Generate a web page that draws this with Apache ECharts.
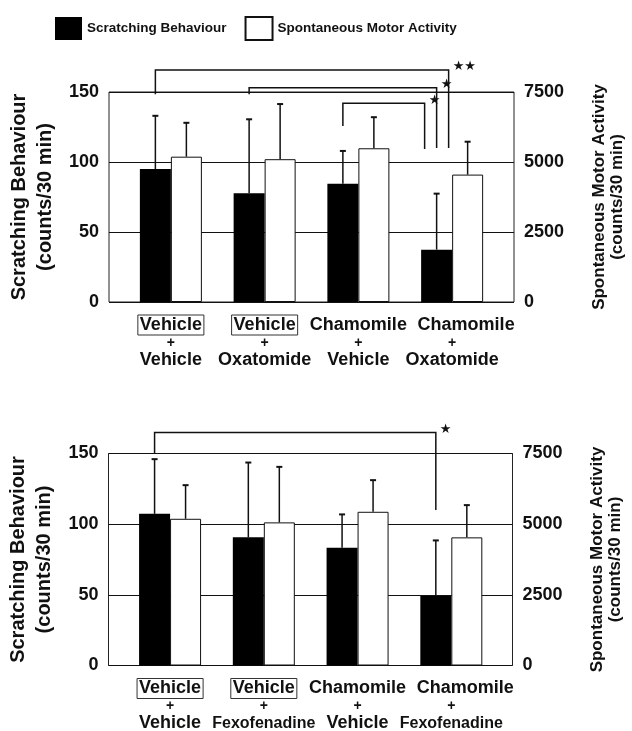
<!DOCTYPE html>
<html>
<head>
<meta charset="utf-8">
<script src="https://cdn.jsdelivr.net/npm/echarts@6/dist/echarts.min.js"></script>
<style>
html, body { margin: 0; padding: 0; background: #fff; }
#main { width: 632px; height: 731px; }
</style>
</head>
<body>
<div id="main"></div>
<script>
var pretreatment = ['Vehicle', 'Vehicle', 'Chamomile', 'Chamomile'];
var treatmentTop = ['Vehicle', 'Oxatomide', 'Vehicle', 'Oxatomide'];
var treatmentBottom = ['Vehicle', 'Fexofenadine', 'Vehicle', 'Fexofenadine'];

// means and mean + SD
var scratchTop = [95, 77.6, 84.5, 37.4];
var scratchTopErr = [133, 130.5, 107.9, 77.4];
var motorTop = [5190, 5100, 5490, 4550];
var motorTopErr = [6400, 7070, 6600, 5725];

var scratchBottom = [107.3, 90.7, 83.3, 49.2];
var scratchBottomErr = [146, 143.6, 106.9, 88.5];
var motorBottom = [5190, 5063, 5438, 4533];
var motorBottomErr = [6380, 7027, 6557, 5674];

var scratchTicks = [0, 50, 100, 150];
var motorTicks = [0, 2500, 5000, 7500];

// [from group, to group, left end, top, right end, lane, stars] (scratching units)
var bracketsTop = [
    [0, 3, 148.4, 165.7, 110, 1, '\u2605\u2605'],
    [1, 3, 148.4, 153, 110, 0, '\u2605'],
    [2, 3, 125.7, 141.9, 109.3, -1, '\u2605']
];
var bracketsBottom = [
    [0, 3, 150, 164.8, 110, 0, '\u2605']
];

var FONT = '"Liberation Sans", Arial, Helvetica, sans-serif';
var INK = '#111';

function catLabel(treat) {
    return function (value, index) {
        var pre = pretreatment[index];
        var first;
        if (pre === 'Vehicle') first = '{box|' + pre + '}';
        else if (index === 3) first = '{shift|' + pre + '}';
        else first = '{plain|' + pre + '}';
        var sty = treat[index].length > 10 ? 'small' : 'second';
        return first + '\n{plus|+}\n{' + sty + '|' + treat[index] + '}';
    };
}

var richLabel = {
    box: { fontSize: 18, fontWeight: 'bold', fontFamily: FONT, color: INK, lineHeight: 18, borderColor: '#333', borderWidth: 1, padding: [1, 2, 1, 2] },
    plain: { fontSize: 18, fontWeight: 'bold', fontFamily: FONT, color: INK, lineHeight: 18, padding: [1, 2, 1, 2] },
    shift: { fontSize: 18, fontWeight: 'bold', fontFamily: FONT, color: INK, lineHeight: 18, padding: [1, 0, 1, 28] },
    second: { fontSize: 18, fontWeight: 'bold', fontFamily: FONT, color: INK, lineHeight: 16 },
    small: { fontSize: 16, fontWeight: 'bold', fontFamily: FONT, color: INK, lineHeight: 16 },
    plus: { fontSize: 14, fontWeight: 'bold', fontFamily: FONT, color: INK, lineHeight: 18 }
};

function errorRender(side) {
    return function (params, api) {
        var b = api.coord([api.value(0), api.value(1)]);
        var t = api.coord([api.value(0), api.value(2)]);
        var x = b[0] + side * 15.5;
        return {
            type: 'group',
            children: [
                { type: 'line', shape: { x1: x, y1: b[1], x2: x, y2: t[1] }, style: { stroke: INK, lineWidth: 1.5 } },
                { type: 'line', shape: { x1: x - 3, y1: t[1], x2: x + 3, y2: t[1] }, style: { stroke: INK, lineWidth: 2 } }
            ]
        };
    };
}

function bracketRender(list) {
    return function (params, api) {
        var b = list[params.dataIndex];
        var pl = api.coord([b[0], b[2]]);
        var pt = api.coord([b[0], b[3]]);
        var pr = api.coord([b[1], b[4]]);
        var xl = pl[0] - 15.5;
        var xr = pr[0] - 15.5 + b[5] * 12;
        return {
            type: 'group',
            children: [
                { type: 'polyline', shape: { points: [[xl, pl[1]], [xl, pt[1]], [xr, pt[1]], [xr, pr[1]]] }, style: { stroke: INK, lineWidth: 1.5, fill: null } },
                { type: 'text', x: xr + 4, y: pt[1] - 3, style: { text: b[6], fill: INK, font: '13px "DejaVu Sans"', align: 'left', verticalAlign: 'middle' } }
            ]
        };
    };
}

function tickStyle() {
    return {
        margin: 10, color: INK, fontSize: 18, fontWeight: 'bold', fontFamily: FONT,
        formatter: function (v) { return String(v); }
    };
}

function frameAxes(grid) {
    return [{
        gridIndex: grid, type: 'value', position: 'left',
        min: scratchTicks[0], max: scratchTicks[scratchTicks.length - 1], interval: scratchTicks[1] - scratchTicks[0],
        axisLine: { show: false }, axisTick: { show: false },
        splitLine: { show: true, lineStyle: { color: INK, width: 1 } },
        axisLabel: tickStyle(),
        name: 'Scratching Behaviour\n(counts/30 min)', nameLocation: 'middle', nameRotate: 90, nameGap: 46,
        nameTextStyle: { fontSize: 20, fontWeight: 'bold', fontFamily: FONT, color: INK, lineHeight: 26 }
    }, {
        gridIndex: grid, type: 'value', position: 'right',
        min: motorTicks[0], max: motorTicks[motorTicks.length - 1], interval: motorTicks[1] - motorTicks[0],
        axisLine: { show: false }, axisTick: { show: false }, splitLine: { show: false },
        axisLabel: tickStyle(),
        name: 'Spontaneous Motor Activity\n(counts/30 min)', nameLocation: 'middle', nameRotate: 90, nameGap: 76,
        nameTextStyle: { fontSize: 17, fontWeight: 'bold', fontFamily: FONT, color: INK, lineHeight: 18 }
    }];
}

function hiddenAxes(grid) {
    return [
        { gridIndex: grid, type: 'value', show: false, min: scratchTicks[0], max: scratchTicks[scratchTicks.length - 1] },
        { gridIndex: grid, type: 'value', show: false, min: motorTicks[0], max: motorTicks[motorTicks.length - 1] }
    ];
}

function catAxis(grid, treat) {
    return {
        gridIndex: grid, type: 'category',
        data: pretreatment.map(function (p, i) { return p + ' + ' + treat[i]; }),
        axisLine: { show: false }, axisTick: { show: false }, splitLine: { show: false },
        axisLabel: { interval: 0, margin: 14, formatter: catLabel(treat), rich: richLabel }
    };
}

function panelSeries(xIdx, yIdx, scratch, scratchErr, motor, motorErr, brackets) {
    return [{
        name: 'Scratching Behaviour', type: 'bar', xAxisIndex: xIdx, yAxisIndex: yIdx,
        data: scratch, barWidth: 31, barGap: '0%',
        itemStyle: { color: '#000' }
    }, {
        name: 'Spontaneous Motor Activity', type: 'bar', xAxisIndex: xIdx, yAxisIndex: yIdx + 1,
        data: motor, barWidth: 31, barGap: '0%',
        itemStyle: { color: '#fff', borderColor: INK, borderWidth: 1 }
    }, {
        type: 'custom', xAxisIndex: xIdx, yAxisIndex: yIdx, z: 3,
        renderItem: errorRender(-1),
        data: scratch.map(function (v, i) { return [i, v, scratchErr[i]]; })
    }, {
        type: 'custom', xAxisIndex: xIdx, yAxisIndex: yIdx + 1, z: 3,
        renderItem: errorRender(1),
        data: motor.map(function (v, i) { return [i, v, motorErr[i]]; })
    }, {
        type: 'custom', xAxisIndex: xIdx, yAxisIndex: yIdx, z: 4, clip: false,
        renderItem: bracketRender(brackets),
        data: brackets.map(function (b) { return [b[0], b[3]]; })
    }];
}

var myChart = echarts.init(document.getElementById('main'));

var option = {
    animation: false,
    backgroundColor: '#fff',
    legend: {
        left: 50, top: 11, itemWidth: 27, itemHeight: 23, itemGap: 18, icon: 'rect',
        data: ['Scratching Behaviour', 'Spontaneous Motor Activity'],
        textStyle: { fontSize: 13.5, fontWeight: 'bold', fontFamily: FONT, color: INK }
    },
    grid: [
        { left: 109, top: 92, width: 405, height: 210, show: true, borderColor: '#222', borderWidth: 1, outerBoundsMode: 'none' },
        { left: 124, top: 92, width: 375, height: 210, outerBoundsMode: 'none' },
        { left: 108.5, top: 453.5, width: 404, height: 212, show: true, borderColor: '#222', borderWidth: 1, outerBoundsMode: 'none' },
        { left: 123.2, top: 453.5, width: 375, height: 212, outerBoundsMode: 'none' }
    ],
    xAxis: [
        { gridIndex: 0, type: 'value', show: false, min: 0, max: 1 },
        catAxis(1, treatmentTop),
        { gridIndex: 2, type: 'value', show: false, min: 0, max: 1 },
        catAxis(3, treatmentBottom)
    ],
    yAxis: [].concat(frameAxes(0), hiddenAxes(1), frameAxes(2), hiddenAxes(3)),
    series: [].concat(
        panelSeries(1, 2, scratchTop, scratchTopErr, motorTop, motorTopErr, bracketsTop),
        panelSeries(3, 6, scratchBottom, scratchBottomErr, motorBottom, motorBottomErr, bracketsBottom)
    )
};

myChart.setOption(option);
</script>
</body>
</html>
